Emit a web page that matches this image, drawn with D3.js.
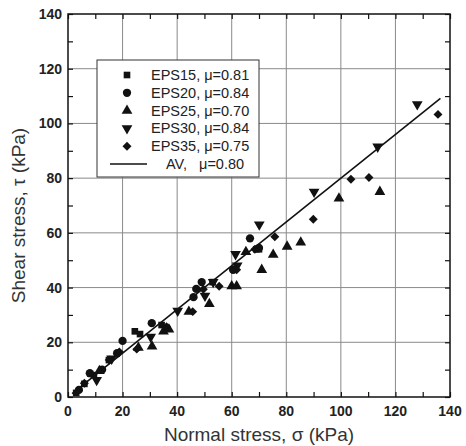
<!DOCTYPE html>
<html>
<head>
<meta charset="utf-8">
<script src="https://cdn.jsdelivr.net/npm/d3@7"></script>
<style>
  body { margin: 0; background: #fff; }
  svg { display: block; }
</style>
</head>
<body>
<div id="chart"></div>
<script>
// values: [normal stress, shear stress] in kPa
const eps15 = [[3,1.5],[6,4.8],[9.5,8],[15,13.5],[24.5,24],[26.4,23],[34.3,26.3],[53,42],[69,54],[70,54]];
const eps20 = [[4,2.6],[8,8.7],[12.5,10],[18,16],[20,20.5],[30.7,27],[46,36.5],[47,39.5],[49,42],[60.5,46.5],[66.7,58],[70,54.5]];
const eps25 = [[11.5,9.5],[25.8,18],[30.8,18.5],[35,24],[37,24.7],[44.3,31.2],[51.8,34],[60,40.5],[61.8,40.5],[65.2,53],[71,46.5],[75.2,52],[80.3,55],[85.3,56.5],[99.3,72.6],[114.3,75]];
const eps30 = [[10.5,6.2],[16,14],[30.3,22],[40.2,31.5],[50.2,37],[53.2,42],[61.4,52.2],[62,48],[70.1,63],[90.2,75],[113.5,91.5],[128,107]];
const eps35 = [[6,5],[15.1,13.5],[18.8,16.5],[25.2,17.5],[36.1,25.7],[45.7,31.2],[49.6,39.4],[55.4,40.5],[61.8,46.5],[68.5,54],[75.8,58.6],[89.9,65],[103.7,79.6],[110.3,80.2],[135.6,103.3]];
const avMu = 0.80;
const avRange = [1.5, 136.5];
const seriesNames = ["EPS15, \u03bc=0.81", "EPS20, \u03bc=0.84", "EPS25, \u03bc=0.70", "EPS30, \u03bc=0.84", "EPS35, \u03bc=0.75"];
const tickValues = [0, 20, 40, 60, 80, 100, 120, 140];

function main() {
    let width = 466, height = 446;
    let left = 68, right = 450, top = 14, bottom = 397;

    let svg = d3.select("#chart").append("svg")
        .attr("width", width)
        .attr("height", height)
        .style("font-family", "'Liberation Sans', Arial, sans-serif");

    let x = d3.scaleLinear().domain([0, 140]).range([left, right]);
    let y = d3.scaleLinear().domain([0, 140]).range([bottom, top]);

    // grid
    let grid = svg.append("g").attr("stroke", "#8a8a8a").attr("stroke-width", 1);
    tickValues.slice(1, -1).forEach(v => {
        grid.append("line").attr("x1", x(v)).attr("x2", x(v)).attr("y1", top).attr("y2", bottom);
        grid.append("line").attr("y1", y(v)).attr("y2", y(v)).attr("x1", left).attr("x2", right);
    });

    // axes with inward ticks every 10
    let minor = d3.range(0, 141, 10);
    svg.append("g").attr("transform", `translate(0,${bottom})`)
        .call(d3.axisTop(x).tickValues(minor).tickSize(5).tickFormat(""));
    svg.append("g").attr("transform", `translate(0,${top})`)
        .call(d3.axisBottom(x).tickValues(minor).tickSize(5).tickFormat(""));
    svg.append("g").attr("transform", `translate(${left},0)`)
        .call(d3.axisRight(y).tickValues(minor).tickSize(5).tickFormat(""));
    svg.append("g").attr("transform", `translate(${right},0)`)
        .call(d3.axisLeft(y).tickValues(minor).tickSize(5).tickFormat(""));
    svg.selectAll(".domain").remove();
    svg.selectAll(".tick line").attr("stroke", "#111").attr("stroke-width", 1.2);

    svg.append("rect")
        .attr("x", left).attr("y", top)
        .attr("width", right - left).attr("height", bottom - top)
        .attr("fill", "none").attr("stroke", "#111").attr("stroke-width", 1.5);

    // tick labels
    svg.append("g").selectAll("text").data(tickValues).enter().append("text")
        .attr("x", d => x(d)).attr("y", bottom + 19)
        .attr("text-anchor", "middle")
        .attr("font-size", 14).attr("font-weight", "bold").attr("fill", "#222")
        .text(d => d);
    svg.append("g").selectAll("text").data(tickValues).enter().append("text")
        .attr("x", left - 6).attr("y", d => y(d) + 5)
        .attr("text-anchor", "end")
        .attr("font-size", 14).attr("font-weight", "bold").attr("fill", "#222")
        .text(d => d);

    // axis titles
    svg.append("text")
        .attr("x", (left + right) / 2).attr("y", 441)
        .attr("text-anchor", "middle").attr("font-size", 19).attr("fill", "#333")
        .text("Normal stress, \u03c3 (kPa)");
    svg.append("text")
        .attr("transform", `translate(25,${(top + bottom) / 2 + 10}) rotate(-90)`)
        .attr("text-anchor", "middle").attr("font-size", 19).attr("fill", "#333")
        .text("Shear stress, \u03c4 (kPa)");

    // fit line
    svg.append("line")
        .attr("x1", x(avRange[0])).attr("y1", y(avRange[0] * avMu))
        .attr("x2", x(avRange[1])).attr("y2", y(avRange[1] * avMu))
        .attr("stroke", "#111").attr("stroke-width", 1.6);

    let shapes = [
        d3.symbol().type(d3.symbolSquare).size(44),
        d3.symbol().type(d3.symbolCircle).size(54),
        d3.symbol().type(d3.symbolTriangle).size(50),
        d3.symbol().type(d3.symbolTriangle).size(50),
        d3.symbol().type(d3.symbolSquare).size(40)
    ];
    let rot = [0, 0, 0, 180, 45];
    let allSeries = [eps15, eps20, eps25, eps30, eps35];

    allSeries.forEach((data, i) => {
        svg.append("g").selectAll("path").data(data).enter().append("path")
            .attr("d", shapes[i])
            .attr("transform", d => `translate(${x(d[0])},${y(d[1])}) rotate(${rot[i]})`)
            .attr("fill", "#111");
    });

    // legend
    let legend = svg.append("g");
    legend.append("rect")
        .attr("x", 97).attr("y", 60).attr("width", 162).attr("height", 117)
        .attr("fill", "#fff").attr("stroke", "#333").attr("stroke-width", 1);
    let rowY = i => 75 + i * 17.8;
    seriesNames.forEach((name, i) => {
        legend.append("path")
            .attr("d", shapes[i])
            .attr("transform", `translate(127,${rowY(i)}) rotate(${rot[i]})`)
            .attr("fill", "#111");
        legend.append("text")
            .attr("x", 151).attr("y", rowY(i) + 5)
            .attr("font-size", 14.5).attr("fill", "#222")
            .text(name);
    });
    legend.append("line")
        .attr("x1", 110).attr("x2", 147).attr("y1", rowY(5)).attr("y2", rowY(5))
        .attr("stroke", "#111").attr("stroke-width", 1.4);
    legend.append("text")
        .attr("x", 166).attr("y", rowY(5) + 5)
        .attr("font-size", 14.5).attr("fill", "#222")
        .attr("xml:space", "preserve")
        .text("AV,   \u03bc=0.80");
}

main();
</script>
</body>
</html>
